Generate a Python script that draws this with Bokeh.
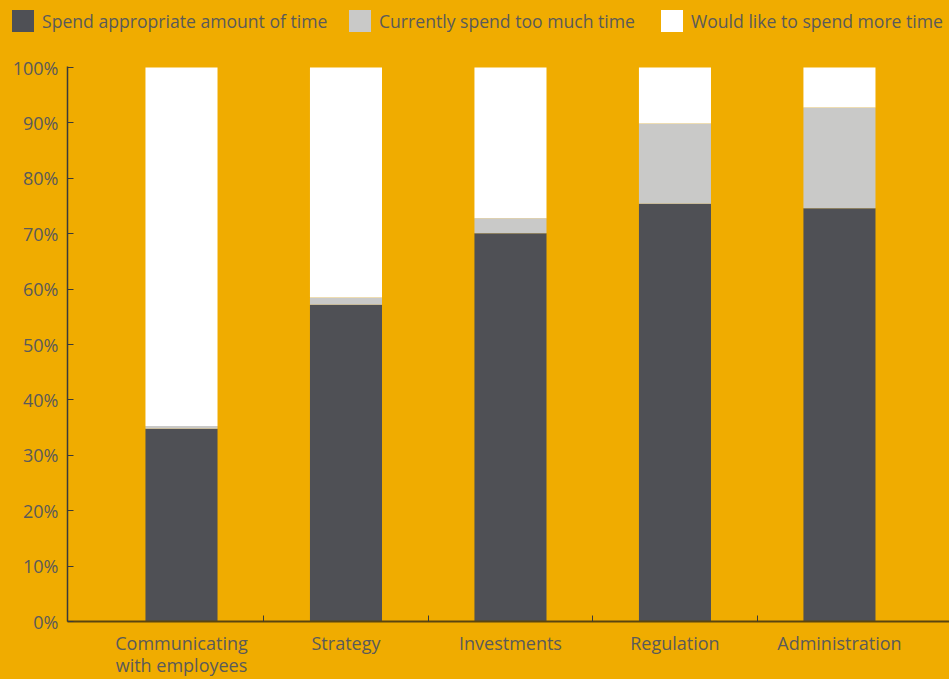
from bokeh.plotting import figure
from bokeh.layouts import column
from bokeh.models import ColumnDataSource, FixedTicker, Range1d, Div
from bokeh.embed import file_html
from bokeh.resources import INLINE

categories = ["Communicating\nwith employees", "Strategy", "Investments", "Regulation", "Administration"]
appropriate = [34.8, 57.2, 70.1, 75.4, 74.6]
too_much = [0.5, 1.3, 2.7, 14.5, 18.2]
more_time = [64.7, 41.5, 27.2, 10.1, 7.2]
series_names = ["Spend appropriate amount of time", "Currently spend too much time", "Would like to spend more time"]
y_ticks = [0, 10, 20, 30, 40, 50, 60, 70, 80, 90, 100]

BG = "#F0AC00"
COLORS = ["#4F5055", "#C9C9C8", "#FFFFFF"]
TXT = "#5A5A5A"
FONT = "Open Sans"
FS = "18px"
LEG_H = 54

xpos = [i + 0.5 for i in range(len(categories))]
src = ColumnDataSource(dict(x=xpos, a=appropriate, b=too_much, c=more_time))

# ---- legend strip (HTML) ----
legend_x = [12, 349, 661]
items_html = ""
for name, col, lx in zip(series_names, COLORS, legend_x):
    items_html += (
        f'<div style="position:absolute;left:{lx}px;top:10px;height:22px;display:flex;'
        f'align-items:center;white-space:nowrap;">'
        f'<span style="display:inline-block;width:22px;height:22px;background:{col};'
        f'margin-right:8px;"></span><span>{name}</span></div>'
    )
leg_html = (
    f'<div style="position:relative;width:949px;height:{LEG_H}px;background:{BG};'
    f"font-family:'{FONT}';font-size:17.6px;color:{TXT};line-height:22px;\">"
    + items_html + "</div>"
)
leg = Div(text=leg_html, width=949, height=LEG_H, margin=0,
          styles={"background-color": BG, "padding": "0", "margin": "0"})

# ---- main chart ----
p = figure(width=949, height=679 - LEG_H, output_backend="svg", toolbar_location=None,
           x_range=Range1d(-0.193, 5.169), y_range=Range1d(0, 100.2),
           background_fill_color=BG, border_fill_color=BG, outline_line_color=None,
           min_border_left=67, min_border_right=0, min_border_bottom=56, min_border_top=66 - LEG_H,
           styles={"background-color": BG})

renderers = p.vbar_stack(["a", "b", "c"], x="x", width=0.438, source=src,
                         color=COLORS, line_color=None)

p.grid.visible = False

# x axis
p.xaxis.ticker = FixedTicker(ticks=xpos, minor_ticks=[1, 2, 3, 4])
p.xaxis.major_label_overrides = {x: c for x, c in zip(xpos, categories)}
p.xaxis.major_tick_in = 0
p.xaxis.major_tick_out = 0
p.xaxis.minor_tick_in = 6
p.xaxis.minor_tick_out = 0
p.xaxis.minor_tick_line_color = "#3a3a3a"
p.xaxis.axis_line_color = "#5a4510"
p.xaxis.axis_line_width = 2
p.xaxis.major_label_text_color = TXT
p.xaxis.major_label_text_font = FONT
p.xaxis.major_label_text_font_size = FS
p.xaxis.major_label_text_line_height = 0.92
p.xaxis.major_label_standoff = 9

# y axis
p.yaxis.ticker = FixedTicker(ticks=y_ticks)
p.yaxis.major_label_overrides = {t: f"{t}%" for t in y_ticks}
p.yaxis.major_tick_in = 6
p.yaxis.major_tick_out = 0
p.yaxis.minor_tick_line_color = None
p.yaxis.major_tick_line_color = "#3a3a3a"
p.yaxis.axis_line_color = "#3a3a3a"
p.yaxis.axis_line_width = 1.5
p.yaxis.major_label_text_color = TXT
p.yaxis.major_label_text_font = FONT
p.yaxis.major_label_text_font_size = FS
p.yaxis.major_label_standoff = 9

layout = column(leg, p, spacing=0, styles={"background-color": BG})
open("out.html", "w").write(file_html(layout, INLINE))
